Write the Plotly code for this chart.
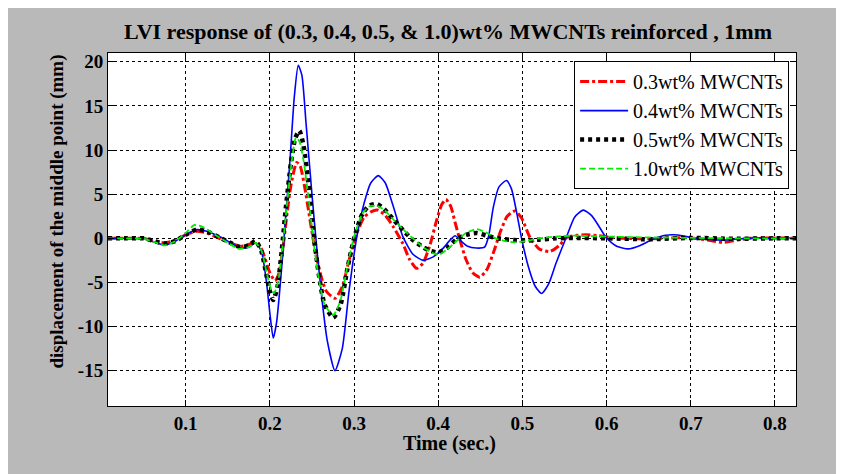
import plotly.graph_objects as go

# ---------------- data ----------------
t_03 = [0.0077, 0.03, 0.05, 0.062, 0.075, 0.088, 0.1, 0.113, 0.125, 0.14, 0.155, 0.165, 0.175, 0.183,
        0.19, 0.196, 0.2, 0.206, 0.21, 0.215, 0.22, 0.225, 0.2318, 0.236, 0.241, 0.247, 0.253, 0.26,
        0.267, 0.2773, 0.286, 0.294, 0.303, 0.312, 0.32, 0.328, 0.337, 0.346, 0.358, 0.366, 0.3743,
        0.382, 0.39, 0.398, 0.404, 0.4091, 0.415, 0.42, 0.4258, 0.433, 0.441, 0.4495, 0.458, 0.466,
        0.474, 0.482, 0.4911, 0.499, 0.509, 0.52, 0.5327, 0.544, 0.5525, 0.565, 0.576, 0.59, 0.605,
        0.62, 0.65, 0.68, 0.7, 0.72, 0.738, 0.755, 0.77, 0.8, 0.825]
y_03 = [0, 0, 0, -0.3, -0.5, -0.2, 0.4, 0.8, 0.6, 0.0, -0.6, -0.9, -0.7, -0.4,
        -1.2, -2.8, -3.9, -4.8, -4.2, -1.5, 2.5, 6.0, 8.6, 8.2, 6.0, 2.5, -1.0, -4.0,
        -6.0, -6.8, -5.5, -2.5, 0.5, 2.4, 3.0, 3.2, 2.6, 1.4, -0.6, -2.4, -3.4,
        -2.8, -0.8, 2.0, 3.8, 4.4, 3.6, 1.8, -0.2, -2.4, -3.9, -4.4, -3.5, -1.5,
        0.8, 2.5, 3.1, 2.3, 0.1, -1.2, -1.5, -0.8, 0.1, 0.35, 0.4, 0.3, 0.1,
        0.0, -0.05, 0.05, 0.05, -0.2, -0.45, -0.2, 0.0, 0.05, 0.0]

t_04 = [0.0077, 0.03, 0.05, 0.062, 0.075, 0.088, 0.1, 0.113, 0.125, 0.14, 0.155, 0.165, 0.175, 0.183,
        0.19, 0.196, 0.2, 0.204, 0.208, 0.213, 0.218, 0.224, 0.229, 0.2337, 0.238, 0.243, 0.25, 0.2556,
        0.262, 0.268, 0.2773, 0.286, 0.294, 0.303, 0.312, 0.32, 0.3288, 0.337, 0.346, 0.358, 0.37,
        0.382, 0.394, 0.405, 0.414, 0.42, 0.427, 0.435, 0.445, 0.455, 0.46, 0.4654, 0.472, 0.481,
        0.487, 0.493, 0.499, 0.507, 0.515, 0.5228, 0.531, 0.54, 0.5525, 0.562, 0.5722, 0.582, 0.592,
        0.6, 0.612, 0.6257, 0.64, 0.655, 0.67, 0.68, 0.69, 0.7, 0.72, 0.74, 0.76, 0.78, 0.8, 0.825]
y_04 = [0, 0, -0.05, -0.4, -0.75, -0.3, 0.4, 1.0, 0.8, 0.2, -0.6, -1.1, -1.0, -0.5,
        -1.5, -5.0, -8.5, -11.3, -9.5, -4.5, 1.5, 9.0, 16.0, 19.6, 18.5, 13.0, 5.0, -1.0,
        -7.0, -11.5, -15.0, -12.5, -6.0, 0.0, 4.0, 6.3, 7.1, 6.3, 3.8, 0.2, -1.8,
        -2.5, -2.1, -1.2, -0.2, 0.3, -0.3, -0.9, -1.1, -1.0, 0.3, 3.5, 5.8, 6.55,
        5.6, 3.0, 0.0, -3.2, -5.4, -6.25, -5.2, -2.8, 0.2, 2.4, 3.2, 2.6, 1.2,
        0.0, -0.9, -1.2, -0.8, -0.1, 0.35, 0.4, 0.3, 0.1, -0.1, -0.2, -0.05, 0.05, 0.0, 0.05]

t_05 = [0.0077, 0.03, 0.05, 0.062, 0.075, 0.088, 0.1, 0.113, 0.125, 0.14, 0.155, 0.165, 0.175, 0.183,
        0.19, 0.196, 0.2, 0.204, 0.209, 0.214, 0.219, 0.225, 0.23, 0.235, 0.24, 0.246, 0.252, 0.258,
        0.265, 0.2753, 0.284, 0.292, 0.3, 0.31, 0.318, 0.3268, 0.336, 0.346, 0.3584, 0.37, 0.382,
        0.39, 0.4, 0.41, 0.4218, 0.433, 0.4456, 0.458, 0.47, 0.49, 0.505, 0.52, 0.54, 0.56, 0.6,
        0.65, 0.7, 0.75, 0.8, 0.825]
y_05 = [0, 0, 0, -0.3, -0.6, -0.3, 0.4, 1.0, 0.8, 0.1, -0.6, -1.0, -0.8, -0.3,
        -1.5, -4.2, -6.0, -7.0, -5.5, -1.5, 3.5, 8.5, 11.3, 12.2, 10.5, 6.0, 0.5, -4.0,
        -7.5, -9.0, -7.5, -3.5, 0.0, 2.8, 3.7, 3.9, 3.3, 2.2, 0.9, -0.2, -1.0,
        -1.4, -1.6, -1.1, -0.1, 0.4, 0.6, 0.3, 0.0, -0.2, -0.25, -0.15, 0.0, 0.05, 0.0,
        -0.1, 0.05, -0.05, 0.0, 0.0]

t_10 = [0.0077, 0.03, 0.05, 0.062, 0.075, 0.088, 0.1, 0.11, 0.12, 0.135, 0.15, 0.163, 0.175, 0.183,
        0.19, 0.196, 0.2, 0.205, 0.21, 0.215, 0.22, 0.225, 0.231, 0.235, 0.24, 0.246, 0.252, 0.258,
        0.265, 0.2753, 0.284, 0.292, 0.3, 0.31, 0.318, 0.3268, 0.336, 0.346, 0.3584, 0.37, 0.382,
        0.394, 0.402, 0.41, 0.4218, 0.433, 0.4456, 0.458, 0.468, 0.477, 0.49, 0.505, 0.52, 0.54,
        0.56, 0.6, 0.65, 0.7, 0.75, 0.8, 0.825]
y_10 = [0, 0, -0.05, -0.4, -0.8, -0.3, 0.6, 1.5, 1.3, 0.4, -0.5, -1.2, -1.0, -0.5,
        -1.4, -3.8, -5.4, -6.2, -4.8, -1.0, 3.5, 8.0, 11.4, 11.0, 8.8, 4.5, -0.5, -4.5,
        -7.5, -8.7, -7.0, -3.2, 0.2, 2.8, 3.6, 3.7, 3.2, 2.2, 1.0, 0.0, -1.0,
        -1.7, -1.8, -1.3, -0.3, 0.6, 1.05, 0.6, 0.0, -0.25, -0.45, -0.3, 0.0, 0.2,
        0.3, 0.2, 0.1, 0.05, 0.0, 0.0, 0.0]

series_names = ["0.3wt% MWCNTs", "0.4wt% MWCNTs", "0.5wt% MWCNTs", "1.0wt% MWCNTs"]
x_ticks = [0.1, 0.2, 0.3, 0.4, 0.5, 0.6, 0.7, 0.8]
y_ticks = [-15, -10, -5, 0, 5, 10, 15, 20]

title_text = "LVI response of (0.3, 0.4, 0.5, & 1.0)wt% MWCNTs reinforced , 1mm"
x_title = "Time (sec.)"
y_title = "displacement of the middle point (mm)"

# ---------------- figure ----------------
SERIF = "Liberation Serif, Times New Roman, serif"
GRAY = "rgb(185,185,185)"

fig = go.Figure()
fig.add_trace(go.Scatter(x=t_03, y=y_03, name=series_names[0], mode="lines",
                         line=dict(color="#ff0000", width=3, dash="dashdot", shape="spline", smoothing=0.6)))
fig.add_trace(go.Scatter(x=t_04, y=y_04, name=series_names[1], mode="lines",
                         line=dict(color="#0000ff", width=1.6, shape="spline", smoothing=0.6)))
fig.add_trace(go.Scatter(x=t_05, y=y_05, name=series_names[2], mode="lines",
                         line=dict(color="#000000", width=4.5, dash="4px,4px", shape="spline", smoothing=0.6)))
fig.add_trace(go.Scatter(x=t_10, y=y_10, name=series_names[3], mode="lines",
                         line=dict(color="#00ee00", width=1.8, dash="6px,3px", shape="spline", smoothing=0.6)))

axis_common = dict(
    showline=True, linecolor="black", linewidth=1, mirror="allticks",
    ticks="inside", ticklen=6, tickcolor="black", tickwidth=1,
    showgrid=True, gridcolor="black", gridwidth=1, griddash="3px,3px",
    zeroline=False,
    tickfont=dict(family=SERIF, size=19, color="black", weight="bold"),
)

fig.update_xaxes(range=[0.0077, 0.825], tickvals=x_ticks, ticktext=[f"{v:.1f}" for v in x_ticks],
                 **axis_common)
fig.update_yaxes(range=[-19, 21], tickvals=y_ticks, ticktext=[str(v) for v in y_ticks],
                 **axis_common)

fig.add_annotation(text=title_text, xref="paper", yref="paper", x=0.4935, y=(406 - 31) / 353,
                   showarrow=False, xanchor="center", yanchor="middle",
                   font=dict(family=SERIF, size=22, color="black", weight="bold"))
fig.add_annotation(text=x_title, xref="paper", yref="paper", x=0.497, y=(406 - 444) / 353,
                   showarrow=False, xanchor="center", yanchor="middle",
                   font=dict(family=SERIF, size=20, color="black", weight="bold"))
fig.add_annotation(text=y_title, xref="paper", yref="paper", x=(57 - 108) / 688, y=0.551,
                   showarrow=False, xanchor="center", yanchor="middle", textangle=-90,
                   font=dict(family=SERIF, size=19, color="black", weight="bold"))

fig.update_layout(
    width=836, height=466,
    margin=dict(l=100, r=48, t=45, b=68),
    paper_bgcolor=GRAY, plot_bgcolor="white",
    showlegend=True,
    legend=dict(x=0.99, y=0.977, xanchor="right", yanchor="top",
                bgcolor="white", bordercolor="black", borderwidth=1,
                font=dict(family=SERIF, size=20, color="black"),
                itemwidth=48, tracegroupgap=0),
)

fig.write_html("out.html")
